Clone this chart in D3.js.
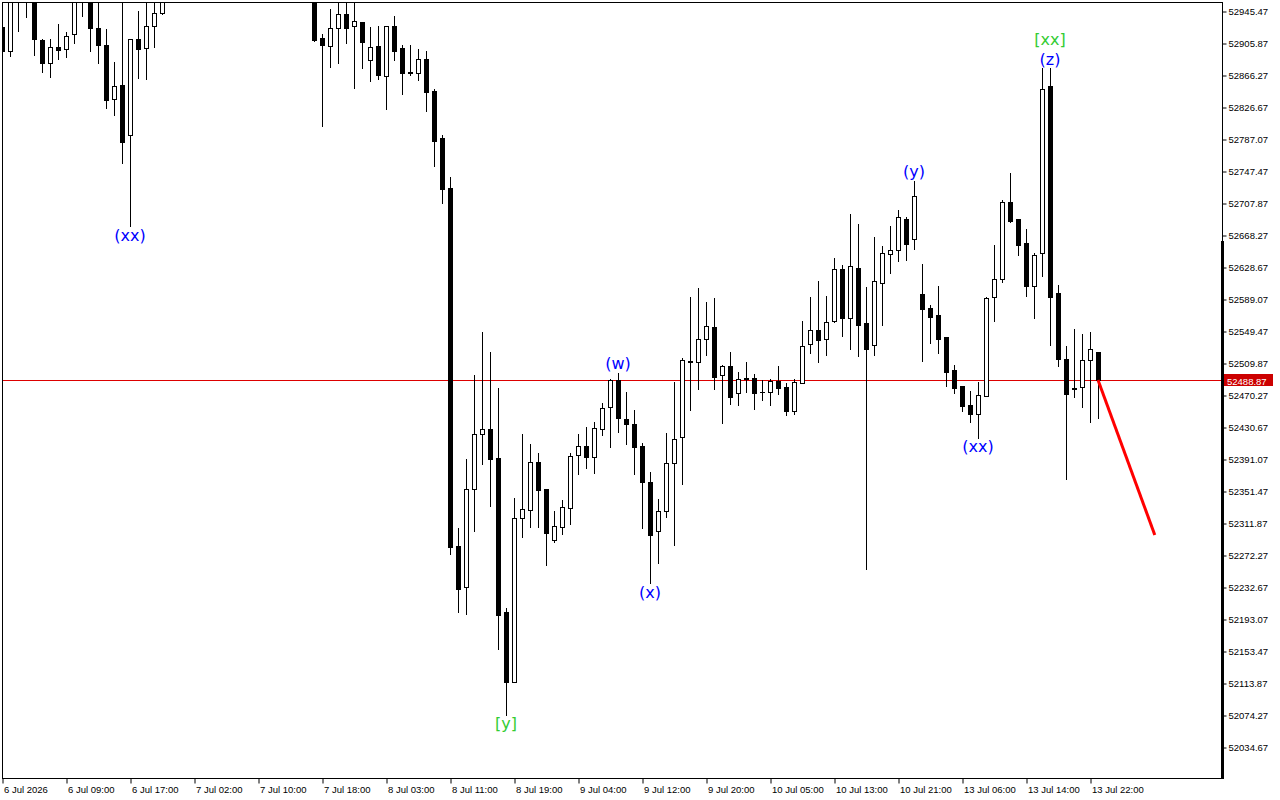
<!DOCTYPE html>
<html>
<head>
<meta charset="utf-8">
<script src="https://cdn.jsdelivr.net/npm/d3@7"></script>
<style>
  html, body { margin: 0; padding: 0; background: #fff; }
  #chart { width: 1280px; height: 800px; }
  .axis text { font-family: "Liberation Sans", Arial, sans-serif; font-size: 9.5px; fill: #000; }
  .axis line { stroke: #000; }
  .wave { font-family: "DejaVu Sans", Verdana, sans-serif; font-size: 16px; }
</style>
</head>
<body>
<div id="chart"></div>
<script>
// hourly bars, one every 8px
const timeLabels = ["6 Jul 2026", "6 Jul 09:00", "6 Jul 17:00", "7 Jul 02:00", "7 Jul 10:00", "7 Jul 18:00",
    "8 Jul 03:00", "8 Jul 11:00", "8 Jul 19:00", "9 Jul 04:00", "9 Jul 12:00", "9 Jul 20:00",
    "10 Jul 05:00", "10 Jul 13:00", "10 Jul 21:00", "13 Jul 06:00", "13 Jul 14:00", "13 Jul 22:00"];

const priceTicks = [52945.47, 52905.87, 52866.27, 52826.67, 52787.07, 52747.47, 52707.87, 52668.27,
    52628.67, 52589.07, 52549.47, 52509.87, 52470.27, 52430.67, 52391.07, 52351.47, 52311.87,
    52272.27, 52232.67, 52193.07, 52153.47, 52113.87, 52074.27, 52034.67];

const bidPrice = 52488.87;

const opens = [
    52925.7, 52896.0, 52962.8, 52973.9, 52969.0, 52909.6, 52881.1, 52900.9, 52898.4, 52917.0,
    52966.5, 52969.0, 52924.4, 52903.4, 52836.6, 52853.9, 52792.0, 52910.8, 52899.7, 52926.9,
    52943.0, 52965.3, 52983.8, 53002.4, 52996.2, 53027.1, 53016.0, 53033.3, 53050.7, 53040.8,
    53021.0, 53038.3, 53058.1, 53045.7, 53030.9, 53016.0, 53006.1, 53013.5, 52993.7, 52981.4,
    52912.1, 52902.2, 52924.4, 52941.8, 52926.9, 52931.9, 52884.8, 52902.2, 52865.0, 52926.9,
    52899.7, 52870.0, 52868.7, 52886.1, 52846.5, 52788.3, 52726.4, 52283.4, 52232.7, 52354.0,
    52422.0, 52428.2, 52392.3, 52201.7, 52115.1, 52318.1, 52327.9, 52387.4, 52354.0, 52290.8,
    52306.9, 52330.4, 52396.0, 52407.2, 52393.5, 52428.2, 52455.4, 52488.8, 52440.6, 52434.4,
    52407.2, 52362.6, 52302.0, 52326.7, 52386.1, 52418.3, 52512.3, 52511.1, 52539.6, 52554.4,
    52495.0, 52506.1, 52472.7, 52491.3, 52491.3, 52474.0, 52474.0, 52487.6, 52480.2, 52450.5,
    52485.1, 52533.4, 52550.7, 52539.6, 52561.8, 52626.2, 52565.5, 52627.4, 52559.4, 52532.2,
    52608.9, 52644.8, 52649.7, 52688.1, 52663.4, 52595.3, 52577.9, 52569.3, 52542.0, 52501.2,
    52481.4, 52457.9, 52446.8, 52469.0, 52591.5, 52613.8, 52709.1, 52688.1, 52658.4, 52605.2,
    52646.0, 52852.7, 52596.5, 52514.8, 52478.9, 52480.2, 52513.6, 52523.5
];

const highs = [
    52949.2, 52971.5, 52977.6, 52983.8, 52976.4, 52910.8, 52910.8, 52929.4, 52919.5, 52973.9,
    52981.4, 52976.4, 52962.8, 52923.2, 52882.4, 52961.6, 52910.8, 52945.5, 52961.6, 52962.8,
    52969.0, 52990.0, 53008.6, 53018.5, 53035.8, 53045.7, 53040.8, 53060.6, 53070.5, 53055.6,
    53048.2, 53065.5, 53072.9, 53063.0, 53045.7, 53033.3, 53028.4, 53030.9, 53013.5, 52996.2,
    52917.0, 52947.9, 52961.6, 52961.6, 52961.6, 52931.9, 52925.7, 52926.9, 52926.9, 52939.3,
    52903.4, 52903.4, 52898.4, 52896.0, 52849.0, 52792.0, 52740.0, 52305.7, 52391.1, 52495.0,
    52548.2, 52523.5, 52478.9, 52206.7, 52342.8, 52422.0, 52409.6, 52398.5, 52354.0, 52326.7,
    52340.3, 52398.5, 52422.0, 52430.7, 52436.9, 52460.4, 52490.1, 52497.5, 52474.0, 52451.7,
    52410.9, 52375.0, 52341.6, 52423.2, 52486.4, 52516.0, 52591.5, 52602.7, 52585.4, 52590.3,
    52507.4, 52523.5, 52498.7, 52511.1, 52496.2, 52488.8, 52490.1, 52506.1, 52485.1, 52490.1,
    52561.8, 52591.5, 52611.3, 52592.8, 52639.8, 52631.2, 52694.3, 52681.9, 52603.9, 52665.8,
    52654.7, 52679.4, 52699.2, 52690.5, 52735.1, 52632.4, 52581.6, 52605.2, 52542.0, 52507.4,
    52481.4, 52475.2, 52486.4, 52591.5, 52655.9, 52711.6, 52745.0, 52688.1, 52675.7, 52646.0,
    52874.9, 52874.9, 52606.4, 52530.9, 52551.9, 52545.8, 52548.2, 52523.5
];

const lows = [
    52893.5, 52889.8, 52920.7, 52938.0, 52891.0, 52870.0, 52863.8, 52886.1, 52888.5, 52905.9,
    52939.3, 52896.0, 52881.1, 52825.4, 52816.8, 52757.4, 52679.4, 52862.6, 52861.3, 52900.9,
    52941.8, 52961.6, 52973.9, 52986.3, 52991.3, 53008.6, 53003.6, 53023.4, 53030.9, 53013.5,
    53008.6, 53027.1, 53033.3, 53021.0, 53006.1, 52996.2, 52988.8, 52983.8, 52969.0, 52908.3,
    52803.2, 52876.2, 52881.1, 52905.9, 52850.2, 52874.9, 52858.8, 52861.3, 52824.2, 52884.8,
    52842.8, 52866.3, 52860.1, 52821.7, 52753.7, 52707.9, 52273.5, 52201.7, 52199.3, 52302.0,
    52384.9, 52332.9, 52155.9, 52074.3, 52115.1, 52294.5, 52306.9, 52306.9, 52259.9, 52288.4,
    52298.3, 52310.6, 52372.5, 52379.9, 52373.8, 52420.8, 52405.9, 52424.5, 52409.6, 52372.5,
    52305.7, 52237.6, 52262.4, 52319.3, 52284.6, 52360.1, 52451.7, 52477.7, 52519.8, 52477.7,
    52435.6, 52459.1, 52457.9, 52474.0, 52452.9, 52464.1, 52457.9, 52471.5, 52445.5, 52446.8,
    52485.1, 52522.2, 52511.1, 52519.8, 52560.6, 52543.3, 52527.2, 52518.5, 52255.0, 52519.8,
    52556.9, 52621.2, 52636.1, 52637.3, 52651.0, 52512.3, 52534.6, 52522.2, 52481.4, 52472.7,
    52450.5, 52436.9, 52417.1, 52469.0, 52561.8, 52610.1, 52684.4, 52643.5, 52592.8, 52565.5,
    52617.5, 52532.2, 52506.1, 52366.3, 52467.8, 52455.4, 52436.9, 52441.8
];

const closes = [
    52896.0, 52965.3, 52971.5, 52966.5, 52910.8, 52881.1, 52900.9, 52897.2, 52914.5, 52964.0,
    52971.5, 52924.4, 52903.4, 52835.3, 52852.7, 52783.4, 52910.8, 52898.4, 52926.9, 52943.0,
    52965.3, 52983.8, 53002.4, 52996.2, 53027.1, 53016.0, 53033.3, 53050.7, 53040.8, 53021.0,
    53038.3, 53058.1, 53045.7, 53030.9, 53016.0, 53006.1, 53013.5, 52993.7, 52981.4, 52909.6,
    52903.4, 52924.4, 52941.8, 52924.4, 52933.1, 52907.1, 52900.9, 52866.3, 52926.9, 52896.0,
    52868.7, 52868.7, 52886.1, 52845.2, 52784.6, 52725.2, 52282.2, 52230.2, 52354.0, 52422.0,
    52428.2, 52391.1, 52198.0, 52115.1, 52318.1, 52329.2, 52387.4, 52352.7, 52299.5, 52308.2,
    52331.7, 52394.8, 52407.2, 52393.5, 52429.4, 52454.2, 52488.8, 52441.8, 52434.4, 52405.9,
    52362.6, 52297.0, 52326.7, 52386.1, 52415.8, 52513.6, 52511.1, 52539.6, 52555.6, 52492.5,
    52506.1, 52467.8, 52490.1, 52490.6, 52472.7, 52473.4, 52487.6, 52478.9, 52450.5, 52486.4,
    52530.9, 52550.7, 52538.3, 52560.6, 52626.2, 52565.5, 52629.9, 52556.9, 52527.2, 52611.3,
    52646.0, 52649.7, 52690.5, 52657.2, 52716.5, 52576.7, 52566.8, 52539.6, 52498.7, 52478.9,
    52456.7, 52446.8, 52470.3, 52590.3, 52613.8, 52709.1, 52685.6, 52655.9, 52605.2, 52643.5,
    52849.0, 52591.5, 52514.8, 52471.5, 52478.3, 52513.6, 52527.2, 52488.8
];

// wave count labels
const labelText = ["(xx)", "[y]", "(w)", "(x)", "(y)", "(xx)", "(z)", "[xx]"];
const labelBar = [16, 63, 77, 81, 114, 122, 131, 131];
const labelSide = ["below", "below", "above", "below", "above", "below", "above", "above"];

// projected move
const projBars = [137, 144.1];
const projPrices = [52488.8, 52297.0];

const width = 1280, height = 800;
const plot = { left: 2, top: 2, right: 1222, bottom: 778 };

const svg = d3.select("#chart").append("svg")
    .attr("width", width)
    .attr("height", height)
    .style("display", "block");

const xScale = d3.scaleLinear().domain([0, 137]).range([2, 1098]);
const yScale = d3.scaleLinear().domain([52034.67, 52945.47]).range([747, 11]);

const candles = opens.map((o, i) => ({ i, o, h: highs[i], l: lows[i], c: closes[i] }));

svg.append("defs").append("clipPath").attr("id", "plot-clip")
    .append("rect")
    .attr("x", plot.left).attr("y", plot.top)
    .attr("width", plot.right - plot.left).attr("height", plot.bottom - plot.top);

const g = svg.append("g").attr("clip-path", "url(#plot-clip)");

// bid line
const bidY = Math.round(yScale(bidPrice)) + 0.5;
g.append("line")
    .attr("x1", plot.left).attr("x2", plot.right)
    .attr("y1", bidY).attr("y2", bidY)
    .attr("stroke", "#dd0000").attr("stroke-width", 1);

// wicks
g.selectAll(".wick").data(candles).enter().append("line")
    .attr("class", "wick")
    .attr("x1", d => Math.round(xScale(d.i)) + 0.5)
    .attr("x2", d => Math.round(xScale(d.i)) + 0.5)
    .attr("y1", d => Math.round(yScale(d.h)))
    .attr("y2", d => Math.round(yScale(d.l)) + 1)
    .attr("stroke", "#000").attr("stroke-width", 1);

// bodies
candles.forEach(d => {
    const cx = Math.round(xScale(d.i));
    const top = Math.round(yScale(Math.max(d.o, d.c)));
    const bot = Math.round(yScale(Math.min(d.o, d.c)));
    if (bot - top < 1) {
        g.append("line")
            .attr("x1", cx - 2).attr("x2", cx + 3)
            .attr("y1", top + 0.5).attr("y2", top + 0.5)
            .attr("stroke", "#000").attr("stroke-width", 1);
    } else {
        g.append("rect")
            .attr("x", cx - 1.5).attr("y", top + 0.5)
            .attr("width", 4).attr("height", bot - top)
            .attr("fill", d.c > d.o ? "#fff" : "#000")
            .attr("stroke", "#000").attr("stroke-width", 1);
    }
});

// projection
g.append("line")
    .attr("x1", xScale(projBars[0])).attr("y1", yScale(projPrices[0]))
    .attr("x2", xScale(projBars[1])).attr("y2", yScale(projPrices[1]))
    .attr("stroke", "#ff0000").attr("stroke-width", 3);

// wave labels
const stackCount = {};
labelText.forEach((t, n) => {
    const i = labelBar[n];
    const side = labelSide[n];
    const key = i + side;
    const level = stackCount[key] || 0;
    stackCount[key] = level + 1;
    const yBase = side === "above" ? yScale(highs[i]) - 9 - level * 20 : yScale(lows[i]) + 9;
    g.append("text")
        .attr("class", "wave")
        .attr("x", xScale(i))
        .attr("y", yBase)
        .attr("text-anchor", "middle")
        .attr("dominant-baseline", "central")
        .attr("fill", t.startsWith("[") ? "#33cc33" : "#0000ff")
        .text(t);
});

// frame
svg.append("rect")
    .attr("x", plot.left + 0.5).attr("y", plot.top + 0.5)
    .attr("width", plot.right - plot.left).attr("height", plot.bottom - plot.top)
    .attr("fill", "none").attr("stroke", "#000").attr("stroke-width", 1);

// right axis
const yAxis = d3.axisRight(yScale)
    .tickValues(priceTicks)
    .tickSize(4)
    .tickPadding(2)
    .tickFormat(d => d.toFixed(2));
const yAxisG = svg.append("g")
    .attr("class", "axis")
    .attr("transform", `translate(${plot.right + 0.5},0.5)`)
    .call(yAxis);
yAxisG.select(".domain").remove();

// bottom axis
const xAxis = d3.axisBottom(xScale)
    .tickValues(timeLabels.map((_, n) => n * 8))
    .tickSize(5)
    .tickPadding(3)
    .tickFormat(d => timeLabels[d / 8]);
const xAxisG = svg.append("g")
    .attr("class", "axis")
    .attr("transform", `translate(0.5,${plot.bottom + 0.5})`)
    .call(xAxis);
xAxisG.select(".domain").remove();
xAxisG.selectAll("text").attr("text-anchor", "start").attr("dx", 1);

// right edge marker bar
svg.append("rect")
    .attr("x", plot.right - 1).attr("y", 241)
    .attr("width", 3).attr("height", plot.bottom - 241 + 1)
    .attr("fill", "#000");

// bid price tag
svg.append("rect")
    .attr("x", 1224).attr("y", bidY - 6.5)
    .attr("width", 49).attr("height", 12)
    .attr("fill", "#cc0000");
svg.append("text")
    .attr("x", 1227).attr("y", bidY + 0.5)
    .attr("dominant-baseline", "central")
    .style("font-family", "'Liberation Sans', Arial, sans-serif")
    .style("font-size", "9.5px")
    .attr("fill", "#fff")
    .text(bidPrice.toFixed(2));
</script>
</body>
</html>
